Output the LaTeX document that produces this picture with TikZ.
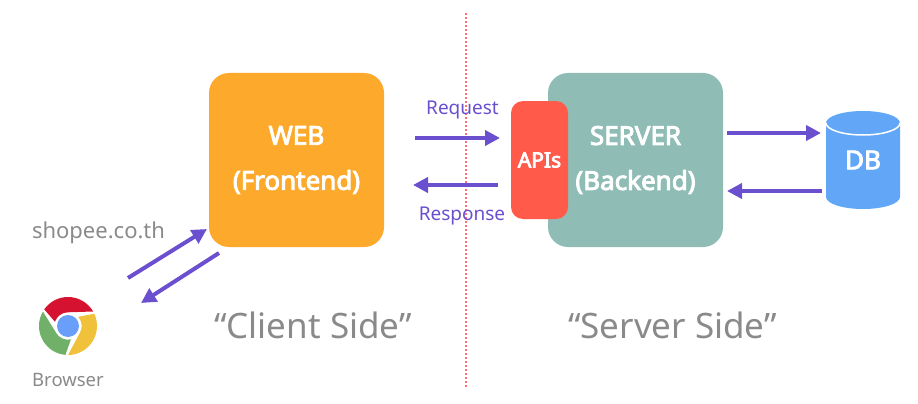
\documentclass[tikz,border=0pt]{standalone}
\usepackage{fontspec}
\setmainfont{Noto Sans}[BoldFont={Noto Sans},BoldFeatures={FakeBold=3.5}]
\usetikzlibrary{arrows.meta,positioning}
\definecolor{webcol}{HTML}{FCA92C}
\definecolor{servercol}{HTML}{8FBDB5}
\definecolor{apicol}{HTML}{FF5A4A}
\definecolor{dbcol}{HTML}{62A6F7}
\definecolor{flowcol}{HTML}{6A4FCF}
\definecolor{graycol}{HTML}{8A8A8A}
\definecolor{linecol}{HTML}{FF6F6F}
\tikzset{
  box/.style={rectangle, rounded corners=20pt, minimum width=175pt, minimum height=174pt, outer sep=0pt, text=white, align=center, font=\fontsize{26}{45}\selectfont\bfseries},
  flow/.style={-{Triangle[length=15pt,width=15pt]}, line width=4pt, flowcol},
  side/.style={text=graycol, font=\fontsize{35}{40}\selectfont},
  hint/.style={text=graycol, inner sep=0pt},
  msg/.style={text=flowcol, inner sep=0pt, font=\fontsize{19}{22}\selectfont},
  dbcap/.style={x radius=37pt, y radius=12pt},
}
\begin{document}
\begin{tikzpicture}[x=1pt,y=-1pt]
    \useasboundingbox (0,0) rectangle (918,404);
    \draw [linecol, line width=2pt, dash pattern=on 2pt off 2pt] (466,13) -- (466,387);
    \node (web) [box, fill=webcol] at (296.5,160) {WEB\\(Frontend)};
    \node (server) [box, fill=servercol, right=164pt of web] {SERVER\\(Backend)};
    \node (apis) [rectangle, rounded corners=12pt, minimum width=57pt, minimum height=118pt, outer sep=0pt, fill=apicol, text=white, font=\fontsize{21}{24}\selectfont\bfseries] at (539.5,160) {APIs};
    \node (db) [rectangle, minimum width=74pt, minimum height=98pt, outer sep=0pt] at (863,160) {};
    \fill [dbcol] ([yshift=-12pt]db.north west) arc [start angle=180, end angle=0, dbcap] -- ([yshift=12pt]db.south east) arc [start angle=0, end angle=-180, dbcap] -- cycle;
    \draw [white, line width=1.5pt] ([yshift=-12pt]db.north west) arc [start angle=180, end angle=360, dbcap];
    \node (dbname) [text=white, font=\fontsize{26}{28}\selectfont\bfseries] at (db.center) {DB};
    \coordinate (chrome) at (68,326);
    \begin{scope}[shift={(68,326)},y=1pt]
      \foreach \turn/\col in {0/D5122F,-120/F0C23B,120/70B068} {
        \definecolor{partcol}{HTML}{\col}
        \fill [partcol, rotate=\turn] (30:29) arc [start angle=30, end angle=145, radius=29] -- (162:13.7) arc [start angle=162, end angle=90, radius=13.7] -- cycle;
      }
      \fill [color={rgb,255:red,106;green,158;blue,251}] (0,0) circle (11);
    \end{scope}
    \node (browser) [hint, font=\fontsize{18.5}{20}\selectfont] at (68,380) {Browser};
    \node (site) [hint, font=\fontsize{22}{26}\selectfont] at (98.5,233) {shopee.co.th};
    \node (client) [side] at (313,325) {“Client Side”};
    \node (serverside) [side] at (672.5,325) {“Server Side”};
    \node (request) [msg] at (462.5,110) {Request};
    \node (response) [msg] at (462,216) {Response};
    \draw [flow] ([shift={(31pt,22pt)}]web.east) -- ([shift={(-11pt,22pt)}]apis.west);
    \draw [flow] ([shift={(-13pt,-25pt)}]apis.west) -- ([shift={(29pt,-25pt)}]web.east);
    \draw [flow] ([shift={(4pt,27pt)}]server.east) -- ([shift={(-5pt,27pt)}]db.west);
    \draw [flow] ([shift={(-4pt,-31pt)}]db.west) -- ([shift={(4pt,-31pt)}]server.east);
    \draw [flow] ([shift={(60pt,48pt)}]chrome) -- ([shift={(-2pt,18pt)}]web.south west);
    \draw [flow] ([shift={(10pt,-6pt)}]web.south west) -- ([shift={(73pt,23pt)}]chrome);
\end{tikzpicture}
\end{document}
